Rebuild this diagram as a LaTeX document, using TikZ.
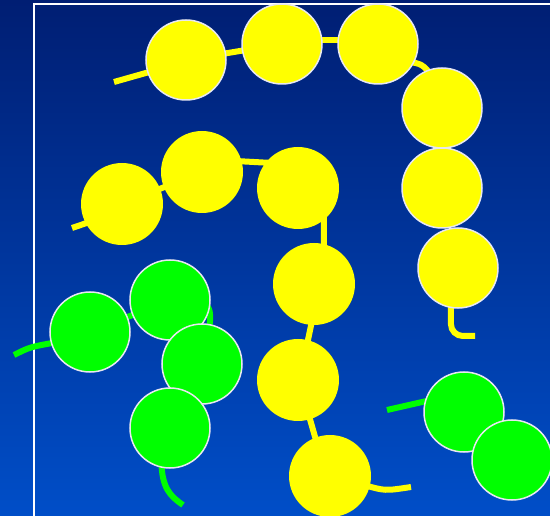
\documentclass[tikz,border=0pt]{standalone}
\usetikzlibrary{backgrounds}
\definecolor{bgtop}{RGB}{0,30,115}
\definecolor{bgbot}{RGB}{0,78,200}
\definecolor{rim}{RGB}{232,232,240}
\definecolor{beadyellow}{RGB}{255,255,0}
\definecolor{beadgreen}{RGB}{0,255,0}
\begin{document}
\begin{tikzpicture}[x=1pt,y=-1pt,
  bead/.style={circle,inner sep=0pt,minimum size=80pt,fill=beadyellow},
  ybead/.style={bead,draw=rim,line width=1.5pt},
  pbead/.style={bead,minimum size=82pt},
  gbead/.style={bead,fill=beadgreen,draw=rim,line width=1.5pt},
  ylink/.style={draw=beadyellow,line width=6pt},
  glink/.style={draw=beadgreen,line width=6pt},
  inboth/.style={shorten <=-6pt,shorten >=-6pt},
  instart/.style={shorten <=-6pt},
  inend/.style={shorten >=-6pt},
  frame/.style={draw=white,line width=1.6pt}]
\useasboundingbox (0,0) rectangle (550,516);
% top chain (outlined yellow)
\node[ybead] (a1) at (186,60) {};
\node[ybead] (a2) at (282,44) {};
\node[ybead] (a3) at (378,44) {};
\node[ybead] (a4) at (442,108) {};
\node[ybead] (a5) at (442,188) {};
\node[ybead] (a6) at (458,268) {};
% second chain (plain yellow)
\node[pbead] (b1) at (122,204) {};
\node[pbead] (b2) at (202,172) {};
\node[pbead] (b3) at (298,188) {};
\node[pbead] (b4) at (314,284) {};
\node[pbead] (b5) at (298,380) {};
\node[pbead] (b6) at (330,476) {};
% green chain
\node[gbead] (g1) at (90,332) {};
\node[gbead] (g2) at (170,300) {};
\node[gbead] (g3) at (202,364) {};
\node[gbead] (g4) at (170,428) {};
% green pair
\node[gbead] (h1) at (464,412) {};
\node[gbead] (h2) at (512,460) {};
% free ends
\coordinate (t1) at (114,82);
\coordinate (t2) at (475,336);
\coordinate (t3) at (72,228);
\coordinate (t4) at (411,487);
\coordinate (t5) at (14,355);
\coordinate (t6) at (183,505);
\coordinate (t7) at (387,410);
\coordinate (f1) at (34,516);
\coordinate (f2) at (34,4);
\coordinate (f3) at (551,4);
\begin{pgfonlayer}{background}
\shade[top color=bgtop,bottom color=bgbot] (0,0) rectangle (550,516);
\draw[frame] (f1) -- (f2) -- (f3);
% top chain links
\draw[ylink,inend] (t1) -- (a1.198);
\draw[ylink,inboth] (a1) -- (a2);
\draw[ylink,inboth] (a2.6) -- (a3.174);
\draw[ylink,inboth] (a3.-27) to[bend left=25] (a4.111);
\draw[ylink,instart,rounded corners=12pt] (a6.-100) |- (t2);
% second chain links
\draw[ylink,inend] (t3) -- (b1.208);
\draw[ylink,inboth] (b1) -- (b2);
\draw[ylink,inboth] (b2.15) -- (b3.142);
\draw[ylink,inboth] (b3.-51) -- (b4.76);
\draw[ylink,inboth] (b4.-94) -- (b5.76);
\draw[ylink,inboth] (b5.-73) -- (b6.111);
\draw[ylink,instart] (b6.-15) .. controls (385,491) .. (t4);
% green links
\draw[glink,inend] (t5) .. controls (30,347) .. (g1.196);
\draw[glink,inboth] (g1) -- (g2);
\draw[glink] (g2.center) .. controls (216,300) .. (g3.center);
\draw[glink,instart] (g4.-102) .. controls (162,488) and (170,496) .. (t6);
\draw[glink,inend] (t7) -- (h1.165);
\end{pgfonlayer}
\end{tikzpicture}
\end{document}
